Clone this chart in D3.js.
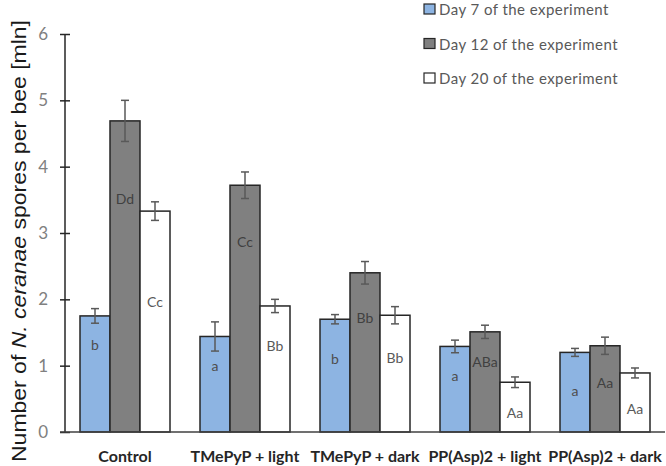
<!DOCTYPE html>
<html><head><meta charset="utf-8">
<script src="https://cdn.jsdelivr.net/npm/d3@7"></script>
<style>body{margin:0;background:#fff}svg{display:block}</style>
</head><body><svg id="c" width="666" height="466"></svg>
<script>
const categories = ["Control", "TMePyP + light", "TMePyP + dark", "PP(Asp)2 + light", "PP(Asp)2 + dark"];
const seriesNames = ["Day 7 of the experiment", "Day 12 of the experiment", "Day 20 of the experiment"];
const day7  = [1.75, 1.44, 1.70, 1.29, 1.20];
const day12 = [4.69, 3.72, 2.40, 1.51, 1.30];
const day20 = [3.33, 1.90, 1.76, 0.75, 0.89];
const err7  = [0.11, 0.22, 0.07, 0.095, 0.06];
const err12 = [0.31, 0.20, 0.17, 0.10, 0.13];
const err20 = [0.14, 0.10, 0.13, 0.08, 0.075];
const lab7  = ["b", "a", "b", "a", "a"];
const lab12 = ["Dd", "Cc", "Bb", "ABa", "Aa"];
const lab20 = ["Cc", "Bb", "Bb", "Aa", "Aa"];
const labY7  = [1.32, 1.00, 1.11, 0.855, 0.63];
const labY12 = [3.52, 2.87, 1.73, 1.06, 0.75];
const labY20 = [1.97, 1.31, 1.13, 0.30, 0.35];
const yTicks = [0, 1, 2, 3, 4, 5, 6];

const series = [
  {name: seriesNames[0], vals: day7, errs: err7, labs: lab7, labY: labY7, fill: "#8db4e2", txt: "#4d4d4d"},
  {name: seriesNames[1], vals: day12, errs: err12, labs: lab12, labY: labY12, fill: "#808080", txt: "#404040"},
  {name: seriesNames[2], vals: day20, errs: err20, labs: lab20, labY: labY20, fill: "#ffffff", txt: "#595959"}
];

const svg = d3.select("#c");
const x0 = d3.scaleBand().domain(categories).range([65, 665]).paddingInner(0.25).paddingOuter(0.125);
const x1 = d3.scaleBand().domain([0,1,2]).range([0, x0.bandwidth()]);
const y = d3.scaleLinear().domain([0, 6]).range([432, 34]);

// bars
series.forEach((s, si) => {
  const g = svg.append("g");
  g.selectAll("rect").data(categories).join("rect")
    .attr("x", c => x0(c) + x1(si))
    .attr("y", (c, i) => y(s.vals[i]))
    .attr("width", x1.bandwidth())
    .attr("height", (c, i) => y(0) - y(s.vals[i]))
    .attr("fill", s.fill).attr("stroke", "#262626").attr("stroke-width", 1.5);
});
// error bars & labels
series.forEach((s, si) => {
  categories.forEach((c, i) => {
    const cx = x0(c) + x1(si) + x1.bandwidth() / 2;
    const top = y(s.vals[i] + s.errs[i]), bot = y(s.vals[i] - s.errs[i]);
    const g = svg.append("g").attr("stroke", "#595959").attr("stroke-width", 1.5);
    g.append("line").attr("x1", cx).attr("x2", cx).attr("y1", top).attr("y2", bot);
    g.append("line").attr("x1", cx - 4).attr("x2", cx + 4).attr("y1", top).attr("y2", top);
    g.append("line").attr("x1", cx - 4).attr("x2", cx + 4).attr("y1", bot).attr("y2", bot);
    svg.append("text").attr("x", cx).attr("y", y(s.labY[i]))
      .attr("text-anchor", "middle").attr("dominant-baseline", "central")
      .attr("font-family", "Lato, 'Open Sans', sans-serif").attr("font-size", 14)
      .attr("fill", s.txt).text(s.labs[i]);
  });
});

// y axis
const yAxis = svg.append("g").attr("transform", "translate(65,0)")
  .call(d3.axisLeft(y).tickValues(yTicks).tickFormat(d3.format("d")).tickSize(5).tickPadding(12));
yAxis.select(".domain").attr("stroke", "#262626").attr("stroke-width", 1.5).attr("d", `M0,${y(6)}V${y(0)}`);
yAxis.selectAll(".tick line").attr("x1", -5).attr("x2", 5).attr("stroke", "#262626").attr("stroke-width", 1.5);
yAxis.selectAll(".tick text").attr("font-family", "Lato, sans-serif").attr("font-size", 17).attr("fill", "#808080");

// x axis
const xAxis = svg.append("g").attr("transform", `translate(0,${y(0)})`)
  .call(d3.axisBottom(x0).tickSize(0).tickPadding(19));
xAxis.select(".domain").attr("stroke", "#404040").attr("stroke-width", 1.5).attr("d", `M60,0H665`);
xAxis.selectAll(".tick text").attr("font-family", "Lato, sans-serif").attr("font-weight", "bold")
  .attr("font-size", 16).attr("fill", "#262626");

// y title
const yt = svg.append("text").attr("transform", `translate(19,241) rotate(-90)`)
  .attr("text-anchor", "middle").attr("font-family", "Arial, 'Liberation Sans', sans-serif")
  .attr("font-size", 20).attr("fill", "#1a1a1a").attr("dominant-baseline", "central")
  .attr("textLength", 442).attr("lengthAdjust", "spacingAndGlyphs");
yt.append("tspan").text("Number of ");
yt.append("tspan").attr("font-style", "italic").text("N. ceranae");
yt.append("tspan").text(" spores per bee [mln]");

// legend
const leg = svg.append("g");
series.forEach((s, si) => {
  const ly = 9 + si * 34.5;
  leg.append("rect").attr("x", 424).attr("y", ly - 5).attr("width", 11).attr("height", 10)
    .attr("fill", s.fill).attr("stroke", "#262626").attr("stroke-width", 1.2);
  leg.append("text").attr("x", 439).attr("y", ly).attr("dominant-baseline", "central")
    .attr("font-family", "Lato, sans-serif").attr("font-size", 15).attr("letter-spacing", 0.45)
    .attr("fill", "#595959").text(s.name);
});
</script></body></html>
